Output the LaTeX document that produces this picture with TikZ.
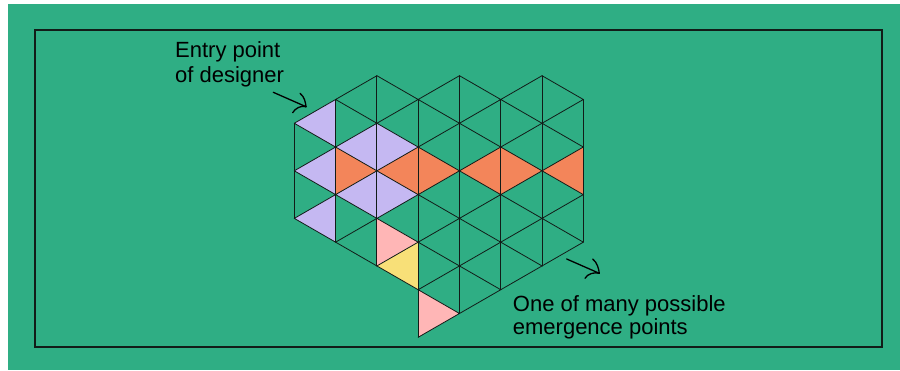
\documentclass[tikz,border=0pt]{standalone}
\usepackage{fontspec}
\setmainfont{Liberation Sans}
\definecolor{bggreen}{RGB}{47,174,132}
\definecolor{lilac}{RGB}{197,184,242}
\definecolor{tangerine}{RGB}{243,133,90}
\definecolor{blush}{RGB}{255,182,182}
\definecolor{butter}{RGB}{248,224,120}
\definecolor{ink}{RGB}{18,28,24}
\tikzset{
  frame/.style={draw=ink, line width=1.4pt},
  gridline/.style={draw=ink, line width=0.8pt, line join=round, line cap=round},
  lbl/.style={inner sep=0pt, text=black, font=\fontsize{22}{25}\selectfont},
  pointer/.style={draw=black, line width=1.3pt, line cap=round, line join=round}
}
\begin{document}
\begin{tikzpicture}[x=1pt,y=-1pt]
\useasboundingbox (0,0) rectangle (900,370);
\fill[white] (0,0) rectangle (900,370);
\fill[bggreen] (8,4) rectangle (900,370);
\draw[frame] (35,30) rectangle (882,347);

% triangular lattice vertices: column c, half-row k
\foreach \c in {0,...,7}
  \foreach \k in {0,...,11}
    \coordinate (v\c-\k) at ({294.3+41.29*\c},{75.7+23.78*\k});

% coloured cells
\fill[lilac] (v0-2)--(v1-1)--(v1-3)--cycle;
\fill[lilac] (v0-4)--(v1-3)--(v1-5)--cycle;
\fill[lilac] (v0-6)--(v1-5)--(v1-7)--cycle;
\fill[lilac] (v1-3)--(v2-2)--(v3-3)--(v2-4)--cycle;
\fill[lilac] (v1-5)--(v2-4)--(v3-5)--(v2-6)--cycle;
\fill[tangerine] (v1-3)--(v2-4)--(v1-5)--cycle;
\fill[tangerine] (v2-4)--(v3-3)--(v4-4)--(v3-5)--cycle;
\fill[tangerine] (v4-4)--(v5-3)--(v6-4)--(v5-5)--cycle;
\fill[tangerine] (v6-4)--(v7-3)--(v7-5)--cycle;
\fill[blush] (v2-6)--(v3-7)--(v2-8)--cycle;
\fill[blush] (v3-9)--(v4-10)--(v3-11)--cycle;
\fill[butter] (v2-8)--(v3-7)--(v3-9)--cycle;

% vertical edges
\foreach \c/\a/\b in {0/2/6,1/1/7,2/0/8,3/1/11,4/0/10,5/1/9,6/0/8,7/1/7}
  \draw[gridline] (v\c-\a)--(v\c-\b);

% diagonal edges: one zigzag per strip between columns c and c+1
\foreach \c/\a/\b in {0/1/7,1/0/8,2/0/9,3/0/11,4/0/10,5/0/9,6/0/8}{
  \pgfmathtruncatemacro{\s}{\c+mod(\a+\c,2)}
  \draw[gridline] (v\s-\a)
    \foreach \k in {\a,...,\b}{
      \pgfextra{\pgfmathtruncatemacro{\cc}{\c+mod(\k+\c,2)}}
      -- (v\cc-\k)
    };
}

% labels
\node[lbl, anchor=base west] (entryA) at (175,57.3) {Entry point};
\node[lbl, anchor=base west] (entryB) at (175,82.3) {of designer};
\node[lbl, anchor=base west] (emergeA) at (512.7,311.5) {One of many possible};
\node[lbl, anchor=base west] (emergeB) at (512.7,334.5) {emergence points};

% pointers
\coordinate (inTail) at (273.3,92.3);
\coordinate (inTip) at (306,106.7);
\coordinate (inUp) at (300,93.3);
\coordinate (inLow) at (292.7,112.7);
\draw[pointer] (inTail) -- (inTip);
\draw[pointer] (inUp) .. controls ([shift={(4.5,3.5)}]inUp) and ([shift={(-0.5,-4.5)}]inTip) .. (inTip);
\draw[pointer] (inLow) .. controls ([shift={(2.5,-4.5)}]inLow) and ([shift={(-5,-1.5)}]inTip) .. (inTip);

\coordinate (outTail) at (566.7,259);
\coordinate (outTip) at (599.3,273.3);
\coordinate (outUp) at (592.7,259);
\coordinate (outLow) at (585,278.3);
\draw[pointer] (outTail) -- (outTip);
\draw[pointer] (outUp) .. controls ([shift={(4.5,3.5)}]outUp) and ([shift={(-0.5,-4.5)}]outTip) .. (outTip);
\draw[pointer] (outLow) .. controls ([shift={(2.5,-4.5)}]outLow) and ([shift={(-5,-1.5)}]outTip) .. (outTip);
\end{tikzpicture}
\end{document}
